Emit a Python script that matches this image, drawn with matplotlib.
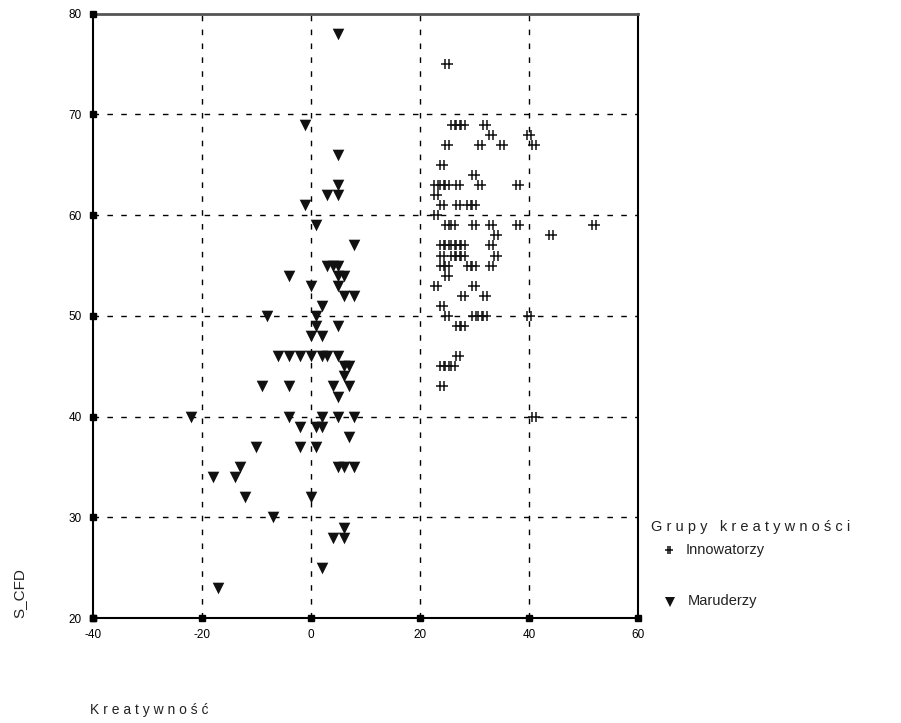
import numpy as np
import matplotlib.pyplot as plt
from matplotlib.path import Path

# Maruderzy (triangles)
mar_x = [5, -1, 5, 5, 3, 5, -1, 1, 8, 3, 4, 5, 5, 6, 5, 6, 8, -4, 0, 2, -8, 1,
         1, 5, 0, 2, -6, -4, -2, 0, 2, 3, 5, 6, 7, 6, -9, -4, 4, 7, 5,
         -22, -4, 2, 5, 8, -2, 1, 2, 7, -10, -2, 1, -13, 5, 6, 8, -18, -14,
         -12, 0, -7, 6, 4, 6, 2, -17]
mar_y = [78, 69, 66, 63, 62, 62, 61, 59, 57, 55, 55, 55, 54, 54, 53, 52, 52, 54, 53, 51, 50, 50,
         49, 49, 48, 48, 46, 46, 46, 46, 46, 46, 46, 45, 45, 44, 43, 43, 43, 43, 42,
         40, 40, 40, 40, 40, 39, 39, 39, 38, 37, 37, 37, 35, 35, 35, 35, 34, 34,
         32, 32, 30, 29, 28, 28, 25, 23]

# Innowatorzy (asterisk-like marks)
inn_x = [25, 26, 27, 28, 32, 33, 40, 25, 31, 35, 41, 24, 30,
         23, 24, 25, 27, 31, 38, 23, 24, 27, 29, 30, 23,
         25, 26, 30, 33, 38, 34, 44, 52,
         24, 25, 26, 27, 28, 33, 24, 26, 27, 28, 34, 25, 29, 30, 33,
         25, 24, 23, 30, 28, 32, 24, 25, 30, 31, 32, 40, 27, 28,
         27, 24, 25, 26, 24, 41]
inn_y = [75, 69, 69, 69, 69, 68, 68, 67, 67, 67, 67, 65, 64,
         63, 63, 63, 63, 63, 63, 62, 61, 61, 61, 61, 60,
         59, 59, 59, 59, 59, 58, 58, 59,
         57, 57, 57, 57, 57, 57, 56, 56, 56, 56, 56, 55, 55, 55, 55,
         54, 55, 53, 53, 52, 52, 51, 50, 50, 50, 50, 50, 49, 49,
         46, 45, 45, 45, 43, 40]

x_ticks = [-40, -20, 0, 20, 40, 60]
y_ticks = [20, 30, 40, 50, 60, 70, 80]

# custom mark: two vertical bars crossed by one horizontal bar
verts = [(-0.3, -0.85), (-0.3, 0.85), (0.3, -0.85), (0.3, 0.85), (-1, 0), (1, 0)]
codes = [Path.MOVETO, Path.LINETO, Path.MOVETO, Path.LINETO, Path.MOVETO, Path.LINETO]
hash_mark = Path(verts, codes)

fig = plt.figure(figsize=(9.01, 7.23), dpi=100)
ax = fig.add_axes([0.103, 0.145, 0.605, 0.836])

for v in x_ticks[1:-1]:
    ax.axvline(v, color='black', lw=1, ls=(0, (4, 6)), zorder=1)
for v in y_ticks[1:-1]:
    ax.axhline(v, color='black', lw=1, ls=(0, (4, 6)), zorder=1)

ax.scatter(mar_x, mar_y, marker='v', s=70, color='#111111', zorder=3, linewidths=0)
ax.scatter(inn_x, inn_y, marker=hash_mark, s=75, color='#111111', lw=1.1, zorder=3)

ax.set_xlim(-40, 60)
ax.set_ylim(20, 80)
ax.set_xticks(x_ticks)
ax.set_yticks(y_ticks)
ax.tick_params(length=0, labelsize=8.5, pad=8)
ax.set_xticklabels([str(v) for v in x_ticks], family='Liberation Sans')
ax.set_yticklabels([str(v) for v in y_ticks], family='Liberation Sans')

# square tick marks on the axes
ax.plot(x_ticks, [20] * len(x_ticks), 's', color='black', ms=4, clip_on=False, zorder=4)
ax.plot([-40] * len(y_ticks), y_ticks, 's', color='black', ms=4, clip_on=False, zorder=4)

for side in ['left', 'bottom']:
    ax.spines[side].set_linewidth(1.5)
ax.spines['top'].set_color('#555555')
ax.spines['top'].set_linewidth(2)
ax.spines['right'].set_linewidth(1.5)

fig.text(0.1, 0.013, 'K r e a t y w n o ś ć', fontsize=10, family='Liberation Sans', color='#222222')
fig.text(0.022, 0.145, 'S_CFD', rotation=90, fontsize=11, family='Liberation Sans',
         va='bottom', ha='center', color='#222222')

# legend
fig.text(0.723, 0.271, 'G r u p y   k r e a t y w n o ś c i', fontsize=10.5,
         family='Liberation Sans', va='center', color='#222222')
fig.text(0.761, 0.239, 'Innowatorzy', fontsize=10.5, family='Liberation Sans',
         va='center', color='#222222')
fig.text(0.763, 0.169, 'Maruderzy', fontsize=10.5, family='Liberation Sans',
         va='center', color='#222222')
fig.add_artist(plt.Line2D([0.743], [0.239], marker=hash_mark, ms=6, color='#111111',
                          mew=1.1, transform=fig.transFigure))
fig.add_artist(plt.Line2D([0.744], [0.168], marker='v', ms=7, color='#111111',
                          mew=0, transform=fig.transFigure))

fig.savefig('out.png', dpi=100)
